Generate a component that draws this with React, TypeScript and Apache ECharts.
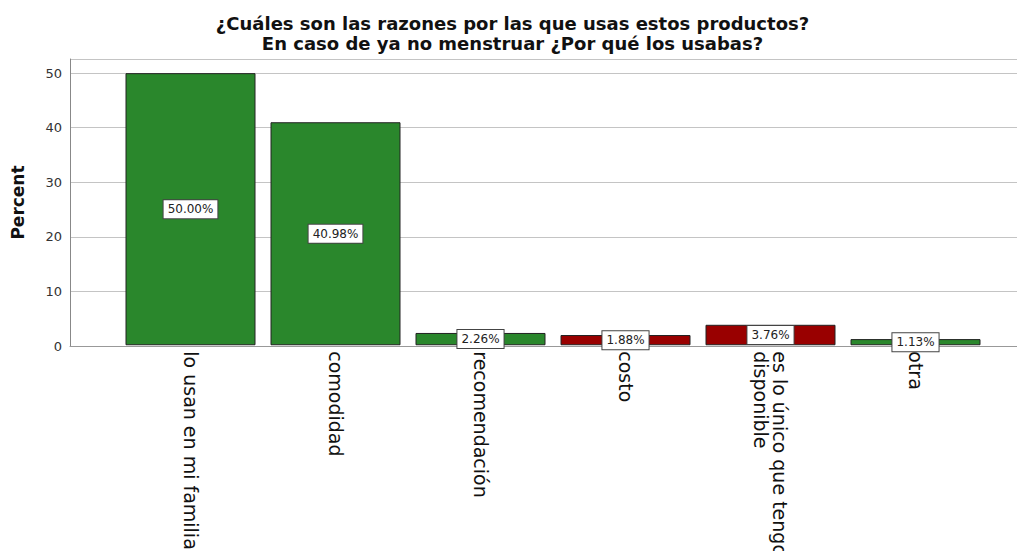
import React, { useEffect, useRef } from "react";
import * as echarts from "echarts";

const categories = [
  "lo usan en mi familia",
  "comodidad",
  "recomendación",
  "costo",
  "es lo único que tengo\ndisponible",
  "otra",
];
const percents = [50.0, 40.98, 2.26, 1.88, 3.76, 1.13];
const barColors = ["#2a872c", "#2a872c", "#2a872c", "#990000", "#990000", "#2a872c"];
const yTicks = [0, 10, 20, 30, 40, 50];
const titleLines = [
  "¿Cuáles son las razones por las que usas estos productos?",
  "En caso de ya no menstruar ¿Por qué los usabas?",
];

const FONT = "'DejaVu Sans', sans-serif";
const Y_MAX = 52.6;

export default function App() {
  const ref = useRef<HTMLDivElement>(null);
  useEffect(() => {
    if (!ref.current) return;
    const chart = echarts.init(ref.current, null, { renderer: "svg" });
    chart.setOption({
      animation: false,
      backgroundColor: "#ffffff",
      title: {
        text: titleLines.join("\n"),
        left: "center",
        top: 8,
        textStyle: {
          fontFamily: FONT,
          fontWeight: "bold",
          fontSize: 18,
          lineHeight: 20,
          color: "#111",
        },
      },
      grid: [
        { left: 70, right: 3, top: 59, bottom: 213 },
        { left: 118, width: 870, top: 59, bottom: 213 },
      ],
      xAxis: [
        {
          type: "category",
          gridIndex: 0,
          data: [""],
          axisLine: { show: true, lineStyle: { color: "#999", width: 1 } },
          axisTick: { show: false },
          axisLabel: { show: false },
        },
        {
          type: "category",
          gridIndex: 1,
          data: categories,
          axisLine: { show: false },
          axisTick: { show: false },
          axisLabel: {
            rotate: -90,
            margin: 6,
            fontFamily: FONT,
            fontSize: 19,
            lineHeight: 19,
            color: "#111",
            interval: 0,
          },
        },
      ],
      yAxis: [
        {
          type: "value",
          gridIndex: 0,
          min: 0,
          max: Y_MAX,
          interval: 10,
          name: "Percent",
          nameLocation: "middle",
          nameRotate: 90,
          nameGap: 44,
          nameTextStyle: {
            fontFamily: FONT,
            fontWeight: "bold",
            fontSize: 17,
            color: "#111",
          },
          axisLine: { show: true, lineStyle: { color: "#888", width: 1 } },
          axisTick: { show: false },
          axisLabel: {
            fontFamily: FONT,
            fontSize: 13,
            color: "#333",
            margin: 8,
            formatter: (v: number) => (yTicks.includes(v) ? String(v) : ""),
          },
          splitLine: { show: true, lineStyle: { color: "#c4c4c4", width: 1 } },
        },
        {
          type: "value",
          gridIndex: 1,
          min: 0,
          max: Y_MAX,
          interval: 10,
          show: false,
          splitLine: { show: false },
        },
      ],
      series: [
        {
          type: "bar",
          xAxisIndex: 1,
          yAxisIndex: 1,
          barWidth: 130,
          data: percents.map((v, i) => ({
            value: v,
            itemStyle: { color: barColors[i], borderColor: "#222", borderWidth: 1 },
          })),
          label: {
            show: true,
            position: "inside",
            formatter: (p: any) => `${Number(p.value).toFixed(2)}%`,
            fontFamily: FONT,
            fontSize: 12,
            color: "#222",
            backgroundColor: "#ffffff",
            borderColor: "#444",
            borderWidth: 1,
            padding: [3, 4, 3, 4],
          },
        },
      ],
    });
    return () => chart.dispose();
  }, []);
  return <div ref={ref} style={{ width: 1025, height: 559, margin: -8 }} />;
}
